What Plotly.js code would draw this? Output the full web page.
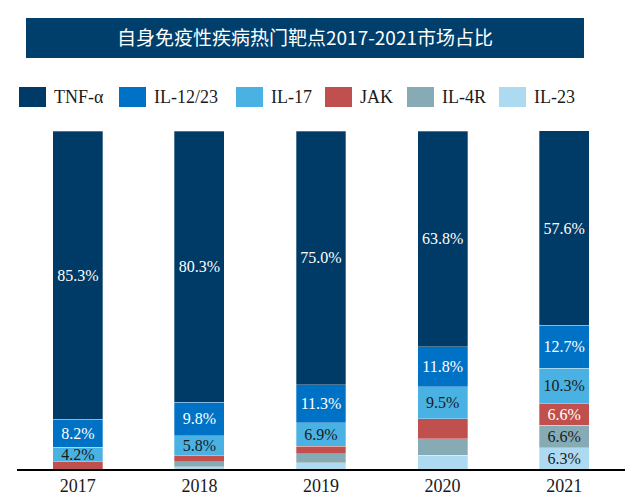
<!DOCTYPE html>
<html>
<head>
<meta charset="utf-8">
<script src="https://cdn.plot.ly/plotly-3.0.1.min.js"></script>
<style>html,body{margin:0;padding:0;background:#fff}#chart{width:625px;height:504px}</style>
</head>
<body>
<div id="chart"></div>
<script>
// ---- data ----
var years = ['2017', '2018', '2019', '2020', '2021'];
var seriesNames = ['TNF-α', 'IL-12/23', 'IL-17', 'JAK', 'IL-4R', 'IL-23'];
var tnf    = [85.3, 80.3, 75.0, 63.8, 57.6];
var il1223 = [8.2, 9.8, 11.3, 11.8, 12.7];
var il17   = [4.2, 5.8, 6.9, 9.5, 10.3];
var jak    = [2.3, 1.9, 2.3, 5.9, 6.6];
var il4r   = [0, 1.6, 2.6, 4.9, 6.6];
var il23   = [0, 0.6, 1.9, 4.1, 6.3];
// which values carry a printed label
var showLabel = [
  [true, true, true, true, true],
  [true, true, true, true, true],
  [true, true, true, true, true],
  [false, false, false, false, true],
  [false, false, false, false, true],
  [false, false, false, false, true]
];
var titleText = '自身免疫性疾病热门靶点2017-2021市场占比';

// ---- styles ----
var colors = ['#003A66', '#0072C6', '#49B2E2', '#C0504D', '#86ABB5', '#ADDAF0'];
var labelColors = ['#FFFFFF', '#FFFFFF', '#1A1A1A', '#FFFFFF', '#1A1A1A', '#1A1A1A'];
var serif = 'Liberation Serif, Times New Roman, serif';

var allValues = [tnf, il1223, il17, jak, il4r, il23];
// stacking order bottom -> top
var order = [5, 4, 3, 2, 1, 0];
var traces = order.map(function (i) {
  var vals = allValues[i];
  return {
    type: 'bar',
    name: seriesNames[i],
    x: years,
    y: vals,
    text: vals.map(function (v, k) { return showLabel[i][k] ? v.toFixed(1) + '%' : ''; }),
    textposition: 'inside',
    insidetextanchor: 'middle',
    textangle: 0,
    constraintext: 'none',
    textfont: { family: serif, size: 16, color: labelColors[i] },
    marker: { color: colors[i], line: { color: 'rgba(255,255,255,0.6)', width: 0.5 } },
    hoverinfo: 'none',
    showlegend: false
  };
});

// plot area geometry (pixels)
var L = 17, R = 625, T = 131, B = 469;
function px(x) { return (x - L) / (R - L); }
function py(y) { return (B - y) / (B - T); }

var shapes = [{
  type: 'rect', xref: 'paper', yref: 'paper',
  x0: px(26), x1: px(584), y0: py(58), y1: py(18),
  fillcolor: '#003F6B', line: { width: 0 }, layer: 'below'
}];
var annotations = [];
var legendX = [19, 119, 236, 325, 407, 499];
seriesNames.forEach(function (n, i) {
  shapes.push({
    type: 'rect', xref: 'paper', yref: 'paper',
    x0: px(legendX[i]), x1: px(legendX[i] + 27), y0: py(107), y1: py(87),
    fillcolor: colors[i], line: { width: 0 }
  });
  annotations.push({
    xref: 'paper', yref: 'paper', x: px(legendX[i] + 33), y: py(97),
    xanchor: 'left', yanchor: 'middle', showarrow: false,
    text: n, font: { family: serif, size: 18, color: '#1A1A1A' }
  });
});

var layout = {
  width: 625, height: 504,
  margin: { l: L, r: 625 - R, t: T, b: 504 - B },
  paper_bgcolor: '#FFFFFF', plot_bgcolor: '#FFFFFF',
  barmode: 'stack',
  bargap: 0.59,
  title: {
    text: titleText,
    font: { family: 'Noto Sans CJK SC, sans-serif', size: 19, color: '#FFFFFF' },
    xref: 'container', yref: 'container', x: 305 / 625, y: 1 - 38 / 504,
    xanchor: 'center', yanchor: 'middle'
  },
  xaxis: {
    type: 'category',
    showline: true, linecolor: '#000000', linewidth: 1.5,
    ticks: '', showgrid: false, zeroline: false,
    tickfont: { family: serif, size: 18, color: '#1A1A1A' }
  },
  yaxis: {
    range: [0, 100], visible: false, showgrid: false, zeroline: false, fixedrange: true
  },
  shapes: shapes,
  annotations: annotations,
  showlegend: false
};

Plotly.newPlot('chart', traces, layout, { displayModeBar: false, staticPlot: true });
</script>
</body>
</html>
